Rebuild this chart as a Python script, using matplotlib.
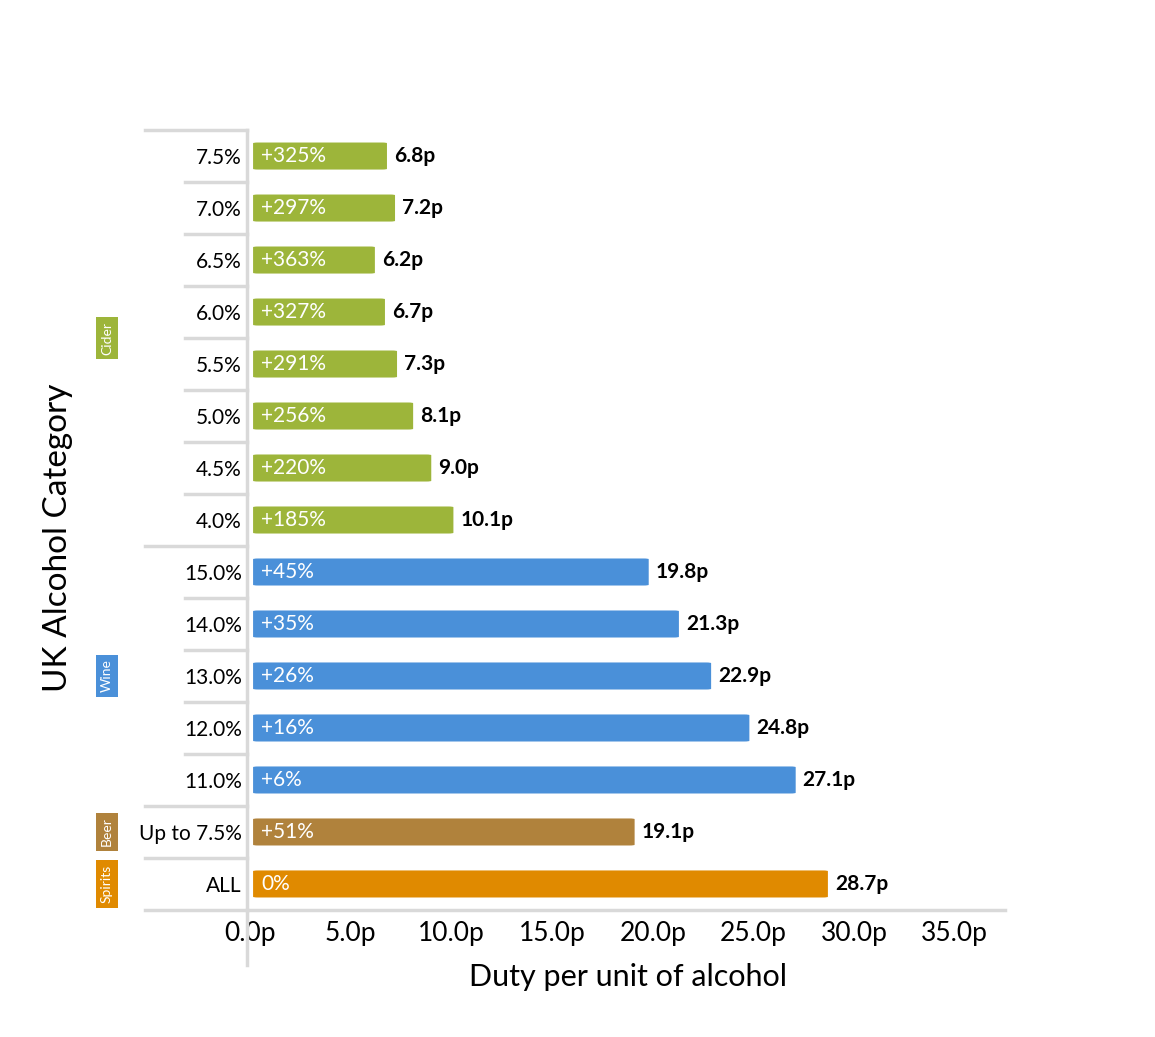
import matplotlib.pyplot as plt
import matplotlib.transforms as mtransforms
from matplotlib.patches import FancyBboxPatch
from matplotlib.lines import Line2D

plt.rcParams["font.family"] = "Lato"

# top to bottom
labels = ["7.5%", "7.0%", "6.5%", "6.0%", "5.5%", "5.0%", "4.5%", "4.0%",
          "15.0%", "14.0%", "13.0%", "12.0%", "11.0%", "Up to 7.5%", "ALL"]
duty = [6.8, 7.2, 6.2, 6.7, 7.3, 8.1, 9.0, 10.1, 19.8, 21.3, 22.9, 24.8, 27.1, 19.1, 28.7]
change = ["+325%", "+297%", "+363%", "+327%", "+291%", "+256%", "+220%", "+185%",
          "+45%", "+35%", "+26%", "+16%", "+6%", "+51%", "0%"]
groups = ["Cider"] * 8 + ["Wine"] * 5 + ["Beer", "Spirits"]
group_colors = {"Cider": "#9db53a", "Wine": "#4a90d9", "Beer": "#b0823c", "Spirits": "#e08a00"}
xticks = [0, 5, 10, 15, 20, 25, 30, 35]

fig = plt.figure(figsize=(11.55, 10.37), dpi=100)
ax = fig.add_axes([0.2165, 0.1225, 0.6537, 0.7521])
n = len(labels)
ax.set_xlim(0, 37.5)
ax.set_ylim(n - 0.5, -0.5)

h = 0.52
for i, (v, c, g) in enumerate(zip(duty, change, groups)):
    col = group_colors[g]
    ax.add_patch(FancyBboxPatch((0.15, i - h / 2), v - 0.15, h,
                                boxstyle="round,pad=0,rounding_size=0.25",
                                mutation_aspect=1 / 18, fc=col, ec="none"))
    ax.text(0.55, i, c, color="white", fontsize=15, va="center", ha="left")
    ax.text(v + 0.35, i, f"{v:.1f}p", color="black", fontsize=15, va="center",
            ha="left", fontweight="bold")

for s in ax.spines.values():
    s.set_visible(False)
ax.set_yticks(range(n))
ax.set_yticklabels(labels, fontsize=15)
ax.tick_params(axis="y", length=0, pad=6)
ax.set_xticks(xticks)
ax.set_xticklabels([f"{t:.1f}p" for t in xticks], fontsize=19)
ax.tick_params(axis="x", length=0, pad=8)
ax.set_xlabel("Duty per unit of alcohol", fontsize=22, labelpad=12)

# gray frame lines
gray = "#d9d9d9"
tr = mtransforms.blended_transform_factory(fig.transFigure, ax.transData)
def hline(y, x0):
    fig.add_artist(Line2D([x0 / 1155, 247 / 1155], [y, y], transform=tr, color=gray, lw=2.5))
for i in range(n + 1):
    y = i - 0.5
    if i == 0 or i == n or groups[i - 1] != groups[min(i, n - 1)]:
        hline(y, 145)
    else:
        hline(y, 185)
fig.add_artist(Line2D([247 / 1155, 1005 / 1155], [n - 0.5, n - 0.5], transform=tr, color=gray, lw=2.5))
fig.add_artist(Line2D([247 / 1155, 247 / 1155], [1 - 130 / 1037, 1 - 965 / 1037],
                      transform=fig.transFigure, color=gray, lw=2.5))

# group tags
for g in group_colors:
    idx = [i for i, gg in enumerate(groups) if gg == g]
    yc = (idx[0] + idx[-1]) / 2
    fig.text(107 / 1155, 0, g, transform=tr, rotation=90, ha="center", va="center",
             color="white", fontsize=10,
             bbox=dict(boxstyle="square,pad=0.35", fc=group_colors[g], ec="none"))
    fig.texts[-1].set_y(yc)

fig.text(58 / 1155, 1 - 538 / 1037, "UK Alcohol Category", rotation=90,
         ha="center", va="center", fontsize=24)

fig.savefig("out.png", dpi=100)
